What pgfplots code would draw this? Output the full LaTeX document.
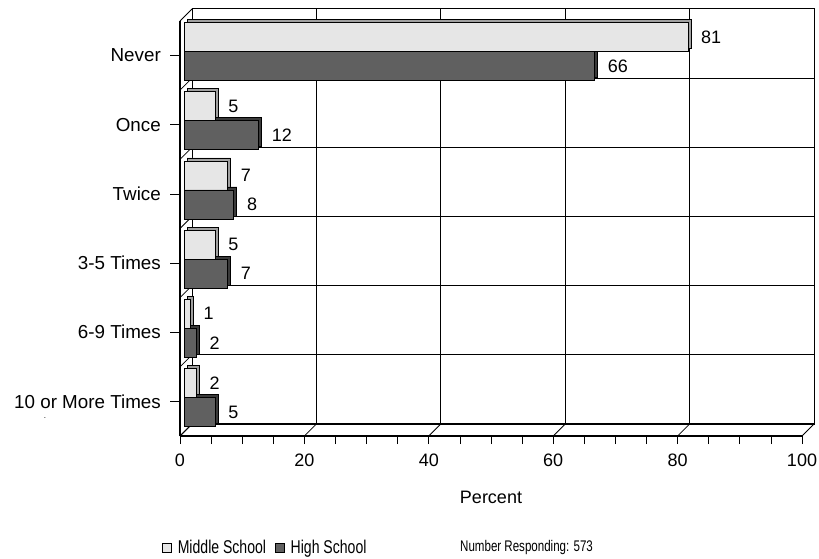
\documentclass[border=0pt]{standalone}
\usepackage{pgfplots}
\pgfplotsset{compat=1.18}
\usepackage{fontspec}
\setmainfont{Liberation Sans}
\definecolor{msface}{HTML}{E6E6E6}
\definecolor{msside}{HTML}{A0A0A0}
\definecolor{hsface}{HTML}{606060}
\definecolor{hsside}{HTML}{3A3A3A}
\begin{document}
\fontsize{18}{21}\selectfont
\begin{tikzpicture}[x=1pt,y=1pt]
\path[use as bounding box] (0,0) rectangle (819,558);
% back wall
\begin{axis}[scale only axis, width=622pt, height=415pt, at={(192pt,134pt)}, anchor=south west,
  xmin=0, xmax=100, ymin=-0.5, ymax=5.5,
  xtick={20,40,60,80}, ytick={0.5,1.5,2.5,3.5,4.5},
  xticklabels={}, yticklabels={}, major tick length=0pt,
  grid=major, grid style={black, line width=0.8pt},
  axis line style={black, line width=1pt}]
\end{axis}
% left wall slants
\foreach \k in {0,...,6} {
  \draw[black, line width=0.8pt] (192,{549-69.1667*\k}) -- (180,{537-69.1667*\k});
}
% floor slants
\foreach \i in {0,...,5} {
  \draw[black, line width=0.8pt] ({180+124.4*\i},122) -- ({192+124.4*\i},134);
}
\draw[black, line width=1.8pt] (192,134) -- (814,134);
% bar depth layer
\begin{axis}[scale only axis, width=622pt, height=415pt, at={(187pt,129pt)}, anchor=south west,
  xmin=0, xmax=100, ymin=-0.5, ymax=5.5, hide axis, xbar, bar width=29pt]
\addplot[fill=msside, draw=black, line width=0.6pt, bar shift=14.5pt]
  coordinates {(81,5) (5,4) (7,3) (5,2) (1,1) (2,0)};
\addplot[fill=hsside, draw=black, line width=0.6pt, bar shift=-14.5pt]
  coordinates {(66,5) (12,4) (8,3) (7,2) (2,1) (5,0)};
\end{axis}
% bar front faces
\begin{axis}[scale only axis, width=622pt, height=415pt, at={(184pt,126pt)}, anchor=south west,
  xmin=0, xmax=100, ymin=-0.5, ymax=5.5, hide axis, xbar, bar width=29pt,
  /pgf/number format/assume math mode=true,
  nodes near coords,
  every node near coord/.append style={anchor=west, inner sep=0pt, xshift=13pt, black, font=\fontsize{18}{21}\selectfont},
  legend style={at={(axis description cs:-0.0354,-0.280)}, anchor=west, draw=none, fill=none,
    inner sep=0pt, legend columns=2, legend cell align=left,
    nodes={inner sep=0pt, font=\fontsize{18.5}{21}\selectfont},
    /tikz/every odd column/.append style={column sep=6pt},
    /tikz/every even column/.append style={column sep=9pt}}]
\addplot[fill=msface, draw=black, line width=0.6pt, bar shift=14.5pt,
  legend image code/.code={\draw[fill=msface, draw=black, line width=0.6pt] (0pt,-4.5pt) rectangle (9pt,4.5pt);}]
  coordinates {(81,5) (5,4) (7,3) (5,2) (1,1) (2,0)};
\addlegendentry{\scalebox{0.76}[1]{Middle School}}
\addplot[fill=hsface, draw=black, line width=0.6pt, bar shift=-14.5pt,
  legend image code/.code={\draw[fill=hsface, draw=black, line width=0.6pt] (0pt,-4.5pt) rectangle (9pt,4.5pt);}]
  coordinates {(66,5) (12,4) (8,3) (7,2) (2,1) (5,0)};
\addlegendentry{\scalebox{0.76}[1]{High School}}
\end{axis}
% front x axis
\begin{axis}[scale only axis, width=622pt, height=415pt, at={(180pt,122pt)}, anchor=south west,
  xmin=0, xmax=100, ymin=-0.5, ymax=5.5,
  axis x line=bottom, axis y line=none, axis line style={-, black, line width=1.5pt},
  xtick={0,20,...,100}, minor x tick num=3, tick align=outside,
  major tick length=8pt, minor tick length=8pt,
  tick style={black, line width=0.8pt},
  /pgf/number format/assume math mode=true,
  xticklabel style={font=\fontsize{18}{21}\selectfont, yshift=-4pt},
  xlabel={Percent},
  xlabel style={at={(axis description cs:0.5,-0.149)}, anchor=center, font=\fontsize{18}{21}\selectfont}]
\end{axis}
% front y axis
\begin{axis}[scale only axis, width=622pt, height=415pt, at={(180pt,122pt)}, anchor=south west,
  xmin=0, xmax=100, ymin=-0.5, ymax=5.5,
  axis y line=left, axis x line=none, axis line style={-, black, line width=1.2pt},
  ytick={0,1,2,3,4,5},
  yticklabels={10 or More Times, 6-9 Times, 3-5 Times, Twice, Once, Never},
  tick align=outside, major tick length=10pt,
  tick style={black, line width=0.8pt},
  yticklabel style={font=\fontsize{18.8}{22}\selectfont, xshift=-3pt}]
\end{axis}
\node[anchor=west, inner sep=0pt] at (460,10) {\fontsize{15.4}{18}\selectfont\scalebox{0.75}[1]{Number Responding: 573}};
\node[inner sep=0pt] at (45,140) {\fontsize{8}{9}\selectfont .};
\end{tikzpicture}
\end{document}
